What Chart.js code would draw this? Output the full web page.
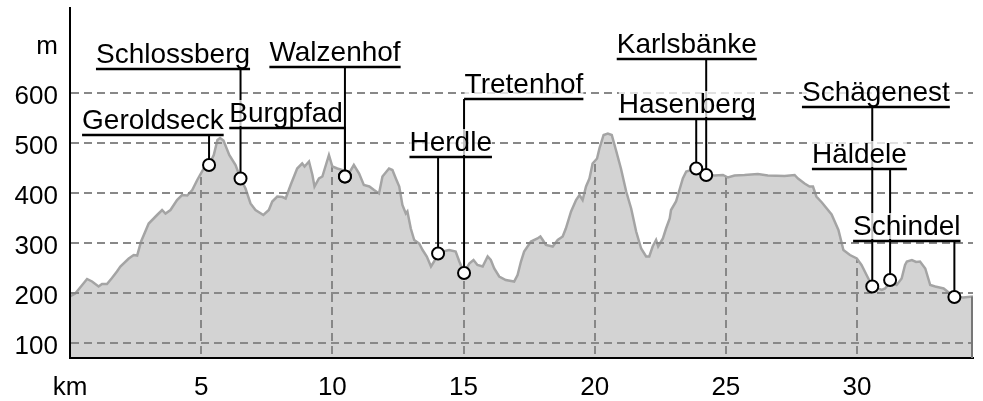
<!DOCTYPE html>
<html>
<head>
<meta charset="utf-8">
<script src="https://cdn.jsdelivr.net/npm/chart.js@4.4.0/dist/chart.umd.min.js"></script>
<style>
    html, body { margin: 0; padding: 0; background: #fff; }
</style>
</head>
<body>
<canvas id="profile" width="983" height="401"></canvas>
<script>
// elevation profile, km along the route and metres above sea level
const km = [
    0.0, 0.2, 0.45, 0.65, 0.84, 1.09, 1.22, 1.41, 1.6, 1.79, 1.92, 2.24, 2.43, 2.56, 2.71, 3.0,
    3.32, 3.51, 3.64, 3.83, 4.08, 4.27, 4.47, 4.66, 4.85, 5.1, 5.3, 5.48, 5.62, 5.72, 5.85, 6.07,
    6.31, 6.5, 6.69, 6.88, 7.07, 7.37, 7.58, 7.71, 7.9, 8.1, 8.22, 8.41, 8.66, 8.85, 8.94, 9.11,
    9.24, 9.32, 9.49, 9.62, 9.87, 10.0, 10.19, 10.38, 10.48, 10.63, 10.82, 11.02, 11.2, 11.41, 11.59, 11.78,
    11.91, 12.16, 12.29, 12.42, 12.55, 12.67, 12.8, 12.86, 12.99, 13.12, 13.31, 13.44, 13.6, 13.76, 13.88, 14.03,
    14.2, 14.45, 14.7, 14.84, 15.02, 15.22, 15.38, 15.53, 15.73, 15.92, 16.04, 16.17, 16.36, 16.61, 16.93, 17.06,
    17.19, 17.31, 17.57, 17.82, 17.93, 18.02, 18.14, 18.4, 18.59, 18.78, 18.9, 19.1, 19.29, 19.42, 19.54, 19.67,
    19.8, 19.92, 20.09, 20.18, 20.34, 20.5, 20.65, 20.81, 21.0, 21.2, 21.39, 21.58, 21.77, 21.96, 22.08, 22.21,
    22.34, 22.42, 22.6, 22.72, 22.86, 22.91, 23.1, 23.23, 23.36, 23.49, 23.87, 24.25, 24.56, 24.89, 25.08, 25.33,
    25.71, 26.22, 26.6, 27.24, 27.62, 27.75, 28.0, 28.19, 28.32, 28.45, 28.66, 29.03, 29.29, 29.48, 29.73, 29.99,
    30.17, 30.43, 30.58, 30.94, 31.07, 31.26, 31.51, 31.7, 31.83, 31.9, 32.09, 32.25, 32.4, 32.6, 32.79, 32.98,
    33.3, 33.71, 34.05, 34.42
];
const elevation = [
    193, 199, 215, 228, 223, 213, 218, 218, 230, 243, 253, 269, 276, 275, 303, 339,
    356, 366, 359, 366, 386, 396, 395, 406, 426, 449, 456, 476, 506, 510, 505, 476,
    456, 429, 409, 379, 366, 356, 366, 383, 393, 392, 389, 416, 449, 459, 453, 463,
    436, 413, 429, 433, 476, 453, 449, 446, 433, 439, 456, 439, 416, 413, 406, 399,
    433, 449, 446, 429, 413, 376, 359, 363, 329, 306, 299, 286, 273, 253, 263, 279,
    283, 286, 283, 263, 240, 259, 266, 256, 253, 273, 266, 249, 233, 226, 223, 236,
    263, 283, 303, 309, 313, 306, 296, 293, 306, 313, 329, 363, 386, 396, 386, 413,
    429, 459, 469, 489, 516, 519, 516, 486, 449, 403, 369, 323, 289, 273, 273, 293,
    306, 293, 309, 329, 349, 366, 383, 406, 429, 443, 449, 436, 435, 436, 431, 435,
    436, 438, 435, 434, 436, 429, 419, 413, 413, 393, 381, 357, 326, 286, 276, 269,
    256, 229, 213, 206, 209, 222, 216, 229, 256, 263, 266, 262, 263, 249, 216, 213,
    209, 192, 191, 193
];

const xTicks = [0, 5, 10, 15, 20, 25, 30];
const xTickLabels = ["km", "5", "10", "15", "20", "25", "30"];
const yTicks = [100, 200, 300, 400, 500, 600, 700];
const yTickLabels = ["100", "200", "300", "400", "500", "600", "m"];

// named places along the route
const placeNames = ["Geroldseck", "Schlossberg", "Burgpfad", "Walzenhof", "Herdle", "Tretenhof",
    "Karlsbänke", "Hasenberg", "Schägenest", "Häldele", "Schindel"];
const placeKm = [5.3, 6.5, 10.48, 10.48, 14.03, 15.02, 24.25, 23.87, 30.58, 31.26, 33.71];
const placeElevation = [456, 429, 433, 433, 279, 240, 436, 449, 213, 226, 192];

// where each name is written: left edge (km) and height of its underline (m)
const labelLeftKm = [0.46, 0.99, 6.07, 7.6, 12.94, 15.04, 20.84, 20.92, 27.9, 28.28, 29.85];
const labelLineM = [516, 648, 530, 652, 472, 588, 668, 548, 572, 448, 304];

const fontFamily = '"Liberation Sans", Arial, Helvetica, sans-serif';

const placeLabels = {
    id: "placeLabels",
    afterDraw(chart) {
        const ctx = chart.ctx;
        const xs = chart.scales.x;
        const ys = chart.scales.y;
        ctx.save();

        // closing edge of the profile at the last point
        const endX = xs.getPixelForValue(km[km.length - 1]);
        ctx.strokeStyle = "#777";
        ctx.lineWidth = 2;
        ctx.beginPath();
        ctx.moveTo(endX - 1, ys.getPixelForValue(elevation[elevation.length - 1]));
        ctx.lineTo(endX - 1, chart.chartArea.bottom);
        ctx.stroke();

        ctx.font = "28px " + fontFamily;
        const items = placeNames.map(function(name, i) {
            return {
                name: name,
                left: xs.getPixelForValue(labelLeftKm[i]),
                lineY: ys.getPixelForValue(labelLineM[i]),
                px: xs.getPixelForValue(placeKm[i]),
                py: ys.getPixelForValue(placeElevation[i]),
                w: ctx.measureText(name).width
            };
        });

        // leader lines
        ctx.strokeStyle = "#000";
        ctx.lineWidth = 2;
        items.forEach(function(it) {
            ctx.beginPath();
            ctx.moveTo(it.px, it.lineY);
            ctx.lineTo(it.px, it.py);
            ctx.stroke();
        });

        // names with a light backing and underline
        items.forEach(function(it) {
            ctx.fillStyle = "rgba(255,255,255,0.75)";
            ctx.fillRect(it.left, it.lineY - 28, it.w, 26);
            ctx.fillStyle = "#000";
            ctx.textBaseline = "alphabetic";
            ctx.textAlign = "left";
            ctx.fillText(it.name, it.left, it.lineY - 6);
            ctx.lineWidth = 2.5;
            ctx.beginPath();
            ctx.moveTo(Math.min(it.left, it.px), it.lineY);
            ctx.lineTo(Math.max(it.left + it.w, it.px + 1), it.lineY);
            ctx.stroke();
        });

        // markers
        items.forEach(function(it) {
            ctx.beginPath();
            ctx.arc(it.px, it.py, 6, 0, Math.PI * 2);
            ctx.fillStyle = "#fff";
            ctx.fill();
            ctx.lineWidth = 2;
            ctx.strokeStyle = "#000";
            ctx.stroke();
        });
        ctx.restore();
    }
};

const points = km.map(function(k, i) { return { x: k, y: elevation[i] }; });

new Chart(document.getElementById("profile"), {
    type: "line",
    data: {
        datasets: [{
            data: points,
            borderColor: "#a4a4a4",
            borderWidth: 2.5,
            backgroundColor: "rgba(0,0,0,0.173)",
            fill: "start",
            pointRadius: 0,
            tension: 0
        }, {
            // white above the profile hides the vertical grid there
            data: points,
            borderWidth: 0,
            backgroundColor: "#fff",
            fill: "end",
            pointRadius: 0,
            tension: 0
        }]
    },
    options: {
        responsive: false,
        animation: false,
        layout: { padding: { top: 8, right: 10, left: 0, bottom: 0 } },
        plugins: {
            legend: { display: false },
            tooltip: { enabled: false }
        },
        scales: {
            x: {
                type: "linear",
                min: 0,
                max: km[km.length - 1],
                afterFit: function(s) {
                    s.height = 43;
                    s.paddingLeft = 0;
                    s.paddingRight = 0;
                },
                afterBuildTicks: function(s) { s.ticks = xTicks.map(function(v) { return { value: v }; }); },
                ticks: {
                    padding: 14,
                    color: "#000",
                    font: { family: fontFamily, size: 26 },
                    maxRotation: 0,
                    callback: function(v) { return xTickLabels[xTicks.indexOf(v)]; }
                },
                grid: {
                    drawTicks: false,
                    lineWidth: 2,
                    color: function(c) { return c.tick && c.tick.value === 0 ? "rgba(0,0,0,0)" : "#a4a4a4"; }
                },
                border: { display: true, color: "#000", width: 2, dash: [8, 5], z: 1 }
            },
            y: {
                min: 70,
                max: 770,
                afterFit: function(s) {
                    s.width = 70;
                    s.paddingTop = 0;
                    s.paddingBottom = 0;
                },
                afterBuildTicks: function(s) { s.ticks = yTicks.map(function(v) { return { value: v }; }); },
                ticks: {
                    padding: 12,
                    labelOffset: 4,
                    color: "#000",
                    font: { family: fontFamily, size: 26 },
                    callback: function(v) { return yTickLabels[yTicks.indexOf(v)]; }
                },
                grid: {
                    drawTicks: false,
                    lineWidth: 2,
                    z: 1,
                    color: function(c) { return c.tick && c.tick.value === 700 ? "rgba(0,0,0,0)" : "#888"; }
                },
                border: { display: true, color: "#000", width: 2, dash: [8, 5], z: 1 }
            }
        }
    },
    plugins: [placeLabels]
});
</script>
</body>
</html>
